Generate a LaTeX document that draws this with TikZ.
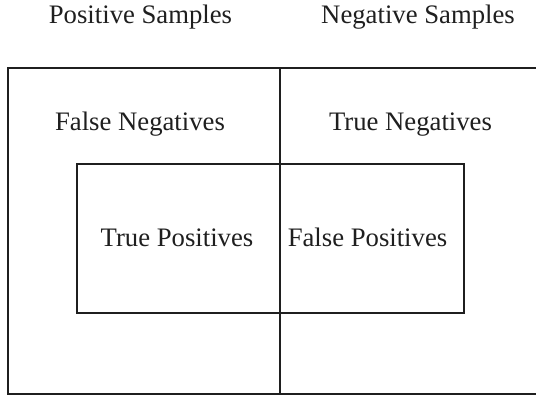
\documentclass[tikz,border=0pt]{standalone}
\usepackage{fontspec}
\setmainfont{Liberation Serif}
\begin{document}
\begin{tikzpicture}[x=1pt,y=-1pt,
  lbl/.style={anchor=base,inner sep=0pt,font=\fontsize{26.7}{32}\selectfont,text=black!88},
  boxline/.style={line width=2pt,draw=black!88}]
\useasboundingbox (0,0) rectangle (536,396);
\fill[white] (0,0) rectangle (536,396);
% outer frame (right side runs off the picture)
\coordinate (otl) at (8,68);
\coordinate (otr) at (545,68);
\coordinate (obl) at (8,394.3);
\coordinate (obr) at (545,394.3);
\draw[boxline] (otr) -- (otl) -- (obl) -- (obr);
% divider
\coordinate (dtop) at (279.5,68);
\coordinate (dbot) at (279.5,394.3);
\draw[boxline] (dtop) -- (dbot);
% inner rectangle
\coordinate (itl) at (77,164);
\coordinate (ibr) at (463.5,313);
\draw[boxline] (itl) rectangle (ibr);
% labels
\node[lbl] (ps) at (140.5,24) {Positive Samples};
\node[lbl] (ns) at (418,24) {Negative Samples};
\node[lbl] (fn) at (140,130.7) {False Negatives};
\node[lbl] (tn) at (410.5,130.7) {True Negatives};
\node[lbl] (tp) at (177,246.7) {True Positives};
\node[lbl] (fp) at (367.5,246.7) {False Positives};
\end{tikzpicture}
\end{document}
